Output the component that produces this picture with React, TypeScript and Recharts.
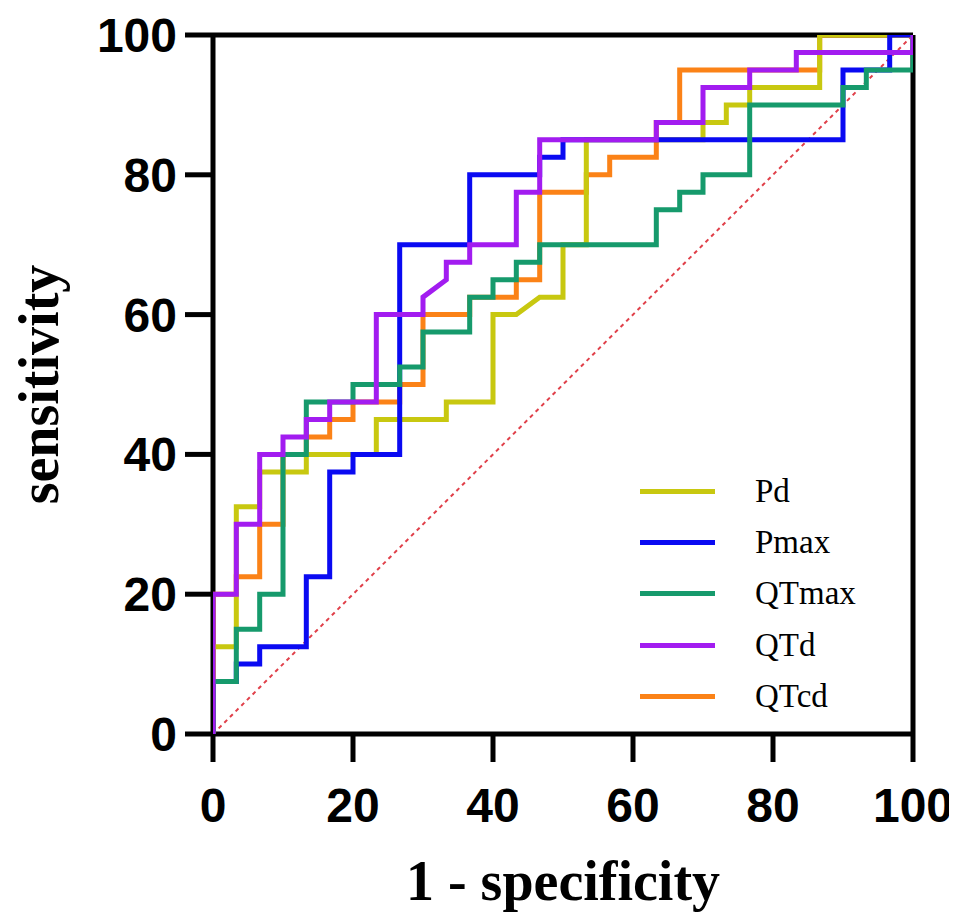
import React from 'react';
import { LineChart, Line, XAxis, YAxis, ReferenceLine, Legend } from 'recharts';

const xTicks = [0, 20, 40, 60, 80, 100];
const yTicks = [0, 20, 40, 60, 80, 100];

// ROC points: [1 - specificity, sensitivity]
const pdPoints: [number, number][] = [
  [0, 0], [0, 12.5], [3.33, 12.5], [3.33, 32.5], [6.67, 32.5], [6.67, 37.5], [13.33, 37.5], [13.33, 40],
  [23.33, 40], [23.33, 45], [33.33, 45], [33.33, 47.5], [40, 47.5], [40, 60], [43.33, 60], [46.67, 62.5],
  [50, 62.5], [50, 70], [53.33, 70], [53.33, 85], [70, 85], [70, 87.5], [73.33, 87.5], [73.33, 90],
  [76.67, 90], [76.67, 92.5], [86.67, 92.5], [86.67, 100], [100, 100],
];

const pmaxPoints: [number, number][] = [
  [0, 0], [0, 7.5], [3.33, 7.5], [3.33, 10], [6.67, 10], [6.67, 12.5], [13.33, 12.5], [13.33, 22.5],
  [16.67, 22.5], [16.67, 37.5], [20, 37.5], [20, 40], [26.67, 40], [26.67, 70], [36.67, 70], [36.67, 80],
  [46.67, 80], [46.67, 82.5], [50, 82.5], [50, 85], [90, 85], [90, 95], [96.67, 95], [96.67, 100], [100, 100],
];

const qtmaxPoints: [number, number][] = [
  [0, 0], [0, 7.5], [3.33, 7.5], [3.33, 15], [6.67, 15], [6.67, 20], [10, 20], [10, 40], [13.33, 40],
  [13.33, 47.5], [20, 47.5], [20, 50], [26.67, 50], [26.67, 52.5], [30, 52.5], [30, 57.5], [36.67, 57.5],
  [36.67, 62.5], [40, 62.5], [40, 65], [43.33, 65], [43.33, 67.5], [46.67, 67.5], [46.67, 70], [63.33, 70],
  [63.33, 75], [66.67, 75], [66.67, 77.5], [70, 77.5], [70, 80], [76.67, 80], [76.67, 90], [90, 90],
  [90, 92.5], [93.33, 92.5], [93.33, 95], [100, 95], [100, 100],
];

const qtdPoints: [number, number][] = [
  [0, 0], [0, 20], [3.33, 20], [3.33, 30], [6.67, 30], [6.67, 40], [10, 40], [10, 42.5], [13.33, 42.5],
  [13.33, 45], [16.67, 45], [16.67, 47.5], [23.33, 47.5], [23.33, 60], [30, 60], [30, 62.5], [33.33, 65],
  [33.33, 67.5], [36.67, 67.5], [36.67, 70], [43.33, 70], [43.33, 77.5], [46.67, 77.5], [46.67, 85],
  [63.33, 85], [63.33, 87.5], [70, 87.5], [70, 92.5], [76.67, 92.5], [76.67, 95], [83.33, 95],
  [83.33, 97.5], [100, 97.5], [100, 100],
];

const qtcdPoints: [number, number][] = [
  [0, 0], [0, 20], [3.33, 20], [3.33, 22.5], [6.67, 22.5], [6.67, 30], [10, 30], [10, 40], [13.33, 40],
  [13.33, 42.5], [16.67, 42.5], [16.67, 45], [20, 45], [20, 47.5], [26.67, 47.5], [26.67, 50], [30, 50],
  [30, 60], [36.67, 60], [36.67, 62.5], [43.33, 62.5], [43.33, 65], [46.67, 65], [46.67, 77.5],
  [53.33, 77.5], [53.33, 80], [56.67, 80], [56.67, 82.5], [63.33, 82.5], [63.33, 87.5], [66.67, 87.5],
  [66.67, 95], [86.67, 95], [86.67, 100], [100, 100],
];

const diagPoints: [number, number][] = [[0, 0], [100, 100]];

const seriesNames = ['Pd', 'Pmax', 'QTmax', 'QTd', 'QTcd'];
const seriesColors = ['#c8c810', '#0a0af2', '#169a6c', '#a21cf0', '#fb8217'];

const toData = (pts: [number, number][]) => pts.map(([x, y]) => ({ x, y }));

const XTick = (props: any) => {
  const { x, y, payload } = props;
  return (
    <text x={x} y={y} dy={58} textAnchor="middle" fontFamily="'Liberation Sans', Arial, sans-serif"
      fontWeight="bold" fontSize={48} fill="#000">
      {payload.value}
    </text>
  );
};

const YTick = (props: any) => {
  const { x, y, payload } = props;
  return (
    <text x={x} y={y} dy={17} textAnchor="end" fontFamily="'Liberation Sans', Arial, sans-serif"
      fontWeight="bold" fontSize={48} fill="#000">
      {payload.value}
    </text>
  );
};

const LegendContent = () => (
  <div style={{ display: 'flex', flexDirection: 'column' }}>
    {seriesNames.map((n, i) => (
      <div key={n} style={{ display: 'flex', alignItems: 'center', height: 51.2 }}>
        <div style={{ width: 75, height: 5, background: seriesColors[i], marginRight: 40 }} />
        <span style={{ fontFamily: "'Liberation Serif', 'Times New Roman', serif", fontSize: 33, color: '#000', lineHeight: '51px' }}>
          {n}
        </span>
      </div>
    ))}
  </div>
);

export default function App() {
  const lineProps: any = {
    type: 'linear',
    dataKey: 'y',
    dot: false,
    activeDot: false,
    isAnimationActive: false,
    strokeWidth: 5,
    strokeLinejoin: 'miter',
    zIndex: 1000,
  };
  return (
    <div style={{ width: 949, height: 908, background: '#fff' }}>
      <LineChart width={949} height={908} margin={{ top: 27, right: 44, left: 0, bottom: 0 }}>
        <XAxis
          type="number"
          dataKey="x"
          domain={[0, 100]}
          ticks={xTicks}
          allowDataOverflow
          height={182}
          tickSize={28}
          tickMargin={2}
          axisLine={{ stroke: '#000', strokeWidth: 5 }}
          tickLine={{ stroke: '#000', strokeWidth: 5 }}
          tick={<XTick />}
          label={{
            content: (p: any) => {
              const vb = p.viewBox || { x: 205, y: 726, width: 700 };
              return (
                <text x={vb.x + vb.width / 2} y={vb.y + 166} textAnchor="middle"
                  fontFamily="'Liberation Serif', 'Times New Roman', serif" fontWeight="bold" fontSize={56} fill="#000">
                  1 - specificity
                </text>
              );
            },
          }}
        />
        <YAxis
          type="number"
          domain={[0, 100]}
          ticks={yTicks}
          allowDataOverflow
          width={205}
          tickSize={28}
          tickMargin={8}
          axisLine={{ stroke: '#000', strokeWidth: 5 }}
          tickLine={{ stroke: '#000', strokeWidth: 5 }}
          tick={<YTick />}
          label={{
            content: (p: any) => {
              const vb = p.viewBox || { x: 0, y: 27, width: 205, height: 699 };
              const cy = vb.y + vb.height / 2;
              return (
                <text x={32} y={cy} textAnchor="middle" transform={`rotate(-90, 32, ${cy})`} dy={18}
                  fontFamily="'Liberation Serif', 'Times New Roman', serif" fontWeight="bold" fontSize={56} fill="#000">
                  sensitivity
                </text>
              );
            },
          }}
        />
        <ReferenceLine y={100} stroke="#000" strokeWidth={5} />
        <ReferenceLine x={100} stroke="#000" strokeWidth={5} />
        <Line {...lineProps} data={toData(diagPoints)} stroke="#e0404a" strokeWidth={2} strokeDasharray="4 4" name="diag" legendType="none" />
        <Line {...lineProps} data={toData(qtcdPoints)} stroke={seriesColors[4]} name="QTcd" />
        <Line {...lineProps} data={toData(pdPoints)} stroke={seriesColors[0]} name="Pd" />
        <Line {...lineProps} data={toData(pmaxPoints)} stroke={seriesColors[1]} name="Pmax" />
        <Line {...lineProps} data={toData(qtmaxPoints)} stroke={seriesColors[2]} name="QTmax" />
        <Line {...lineProps} data={toData(qtdPoints)} stroke={seriesColors[3]} name="QTd" />
        <Legend
          layout="vertical"
          align="center"
          verticalAlign="middle"
          content={<LegendContent />}
          wrapperStyle={{ position: 'absolute', left: 632, top: 458, width: 260 }}
        />
      </LineChart>
    </div>
  );
}
